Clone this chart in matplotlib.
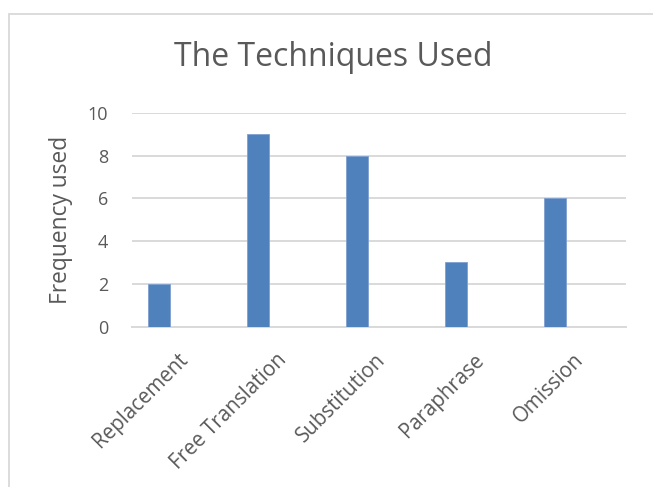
import matplotlib
matplotlib.use('Agg')
from matplotlib import pyplot as plt
from matplotlib.patches import Rectangle
from matplotlib.transforms import ScaledTranslation
import numpy as np

# data
TECHNIQUES = ['Replacement', 'Free Translation', 'Substitution', 'Paraphrase', 'Omission']
FREQUENCY = [2, 9, 8, 3, 6]
Y_TICKS = [0, 2, 4, 6, 8, 10]

TEXT = '#595959'
GRID = '#d9d9d9'
BAR = '#4f81bd'

plt.rcParams['font.family'] = ['Open Sans', 'DejaVu Sans']

fig = plt.figure(figsize=(6.53, 4.87), dpi=100)
fig.patch.set_facecolor('white')

# chart area border (light grey, cut by the image edges)
fig.add_artist(Rectangle((9 / 653, -0.1), 1.2, (487 - 14) / 487 + 0.1,
                         transform=fig.transFigure, fill=False,
                         edgecolor=GRID, linewidth=1.3))

ax = fig.add_axes([132 / 653, 1 - 326.5 / 487, (626 - 132) / 653, (326.5 - 113) / 487])

# excel clustered layout: first of three series slots, gap width 150%
x = np.arange(len(TECHNIQUES))
width = 1 / 4.5
ax.bar(x - width, FREQUENCY, width=width, color=BAR, edgecolor='#7f9fd0',
       linewidth=0.6, zorder=3)

ax.set_xlim(-0.5, len(TECHNIQUES) - 0.5)
ax.set_ylim(0, 10)
ax.set_yticks(Y_TICKS)
ax.grid(axis='y', color=GRID, linewidth=1.4, zorder=0)
ax.set_axisbelow(True)

for side in ['top', 'right', 'left']:
    ax.spines[side].set_visible(False)
ax.spines['bottom'].set_color(GRID)
ax.spines['bottom'].set_linewidth(1.4)

ax.tick_params(axis='both', length=0, colors=TEXT, labelsize=13)
ax.tick_params(axis='y', pad=17)
ax.set_xticks(x)
ax.set_xticklabels(TECHNIQUES, rotation=45, ha='right', va='top',
                   rotation_mode='anchor', color=TEXT, fontsize=14.8)
ax.tick_params(axis='x', pad=15)
shift = ScaledTranslation(-4 / 100, -2 / 100, fig.dpi_scale_trans)
for lbl in ax.get_xticklabels():
    lbl.set_transform(lbl.get_transform() + shift)

ax.set_ylabel('Frequency used', fontsize=16.4, color=TEXT)
ax.yaxis.set_label_coords((73 - 132) / 494, 0.5)

fig.text(333 / 653, 1 - 57 / 487, 'The Techniques Used', ha='center', va='center',
         fontsize=23, color=TEXT)

fig.savefig('out.png', dpi=100)
